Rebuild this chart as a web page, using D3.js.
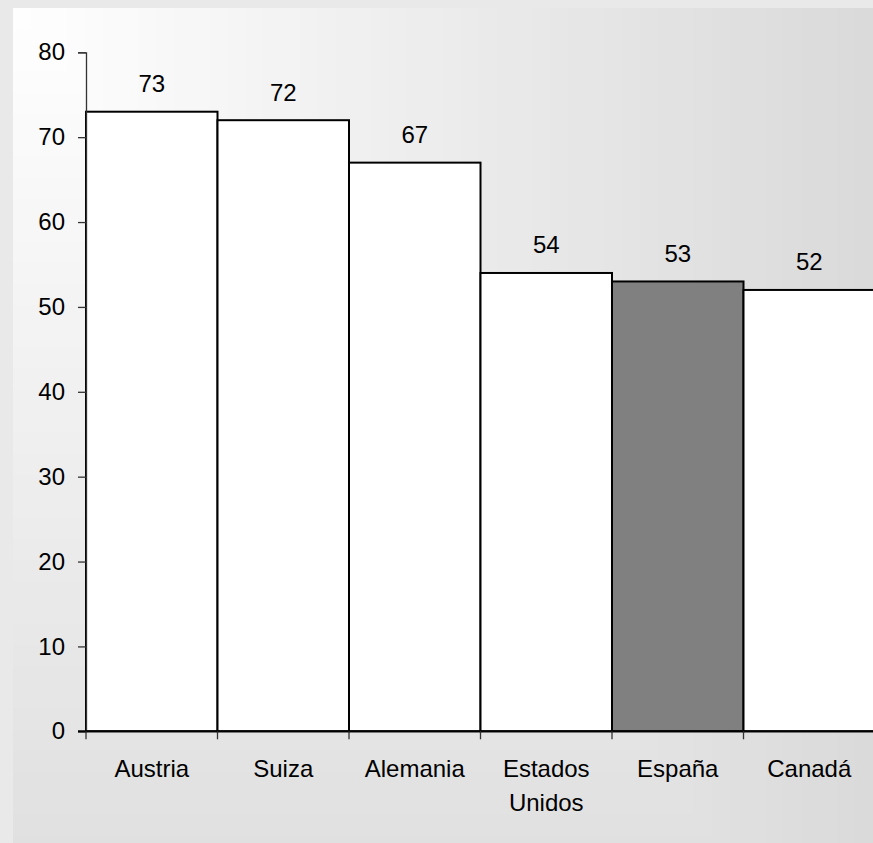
<!DOCTYPE html>
<html><head><meta charset="utf-8">
<script src="https://cdn.jsdelivr.net/npm/d3@7"></script>
<style>html,body{margin:0;padding:0;background:#e9e9e9;overflow:hidden}</style>
</head><body>
<svg id="c" width="873" height="843"></svg>
<script>
const categories = ["Austria","Suiza","Alemania","Estados Unidos","España","Canadá"];
const values = [73,72,67,54,53,52];
const highlight = ["España"];
const yTicks = [0,10,20,30,40,50,60,70,80];

const W = 873, H = 843;
const svg = d3.select("#c");
const font = "'Liberation Sans', Arial, sans-serif";
const fs = 24;

// background: outer frame + rectangular "from corner" gradient
svg.append("rect").attr("width",W).attr("height",H).attr("fill","#e9e9e9");
const bx = 13, by = 8, bw = W - bx, bh = (H - by) * 1.22;
const nb = 48;
const bg = d3.scaleLinear().domain([0, 1]).range(["#ffffff", "#dadada"]);
const bands = d3.range(nb, 0, -1);
svg.append("g").selectAll("rect").data(bands).join("rect")
  .attr("x", bx).attr("y", by)
  .attr("width", d => bw * d / nb).attr("height", d => bh * d / nb)
  .attr("fill", d => bg(d / nb));

const x = d3.scaleBand().domain(categories).range([86, 875]).padding(0);
const y = d3.scaleLinear().domain([0, 80]).range([731.3, 52.3]);

// bars
svg.append("g").selectAll("rect").data(categories).join("rect")
  .attr("x", d => x(d)).attr("y", (d,i) => y(values[i]))
  .attr("width", x.bandwidth()).attr("height", (d,i) => y(0) - y(values[i]))
  .attr("fill", d => highlight.includes(d) ? "#808080" : "#ffffff")
  .attr("stroke", "#000").attr("stroke-width", 2);

// value labels
svg.append("g").selectAll("text").data(categories).join("text")
  .attr("x", d => x(d) + x.bandwidth()/2).attr("y", (d,i) => y(values[i]) - 19.5)
  .attr("text-anchor","middle").attr("font-family",font).attr("font-size",fs)
  .attr("fill","#000").text((d,i) => values[i]);

// y axis
const ya = svg.append("g").attr("transform","translate(86,0)")
  .call(d3.axisLeft(y).tickValues(yTicks).tickSize(8).tickPadding(13));
ya.select(".domain").attr("stroke","#333").attr("stroke-width",1.3);
ya.selectAll(".tick line").attr("stroke","#333").attr("stroke-width",1.3);
ya.selectAll(".tick text").attr("font-family",font).attr("font-size",fs).attr("fill","#000");

// x axis
const edges = categories.map(d => x(d));
const xg = svg.append("g");
xg.append("line").attr("x1",78).attr("x2",875).attr("y1",y(0)).attr("y2",y(0))
  .attr("stroke","#000").attr("stroke-width",2);
xg.selectAll("line.t").data(edges).join("line").attr("class","t")
  .attr("x1",d=>d).attr("x2",d=>d).attr("y1",y(0)).attr("y2",y(0)+8)
  .attr("stroke","#333").attr("stroke-width",1.3);
const lab = xg.selectAll("text").data(categories).join("text")
  .attr("x", d => x(d) + x.bandwidth()/2).attr("y", 777)
  .attr("text-anchor","middle").attr("font-family",font).attr("font-size",fs)
  .attr("fill","#000");
lab.each(function(d){
  const words = d.split(" ");
  const t = d3.select(this);
  const cx = x(d) + x.bandwidth()/2;
  words.forEach((w,i) => t.append("tspan").attr("x",cx).attr("dy", i ? 34 : 0).text(w));
});
</script>
</body></html>
